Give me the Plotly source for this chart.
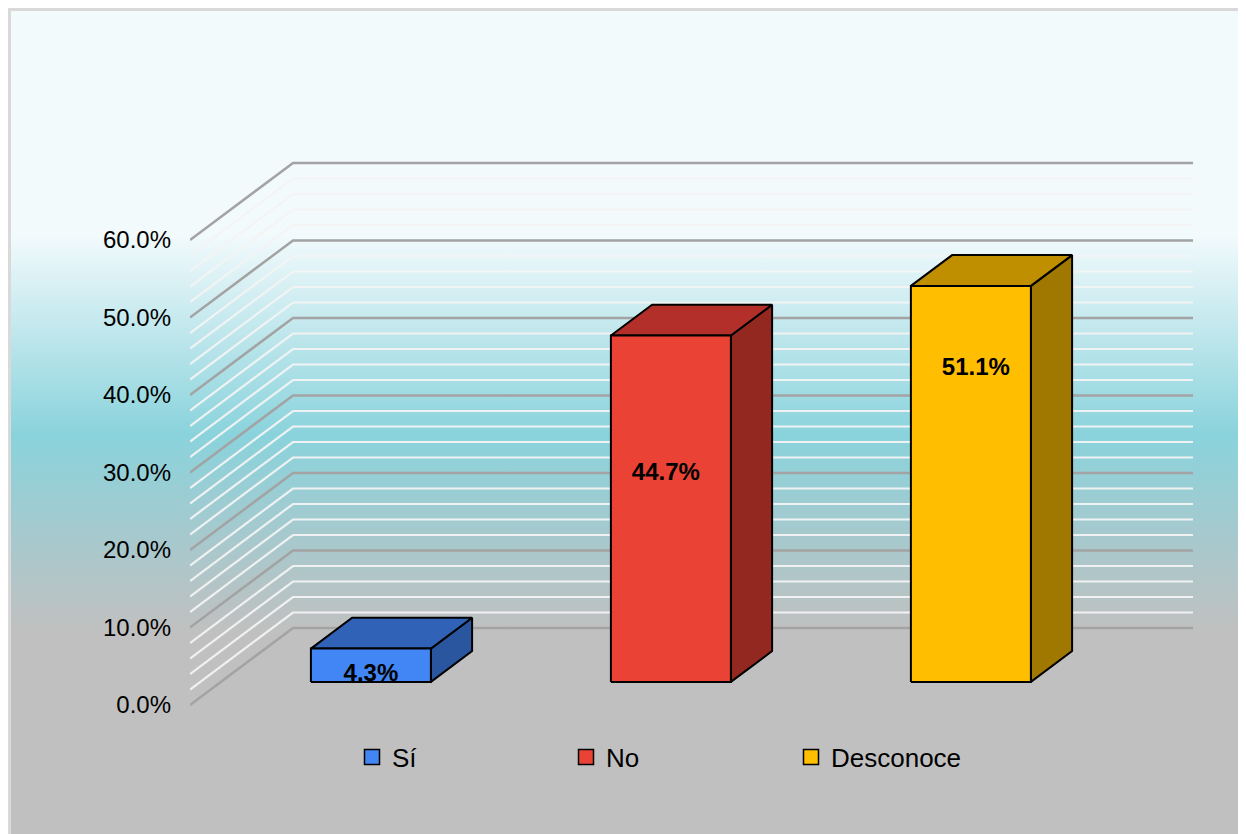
import base64
import plotly.graph_objects as go

# ---------------- data ----------------
categories = ["Sí", "No", "Desconoce"]
values = [4.3, 44.7, 51.1]
tick_values = [0, 10, 20, 30, 40, 50, 60]
tick_labels = ["0.0%", "10.0%", "20.0%", "30.0%", "40.0%", "50.0%", "60.0%"]
minor_step = 2
value_labels = ["4.3%", "44.7%", "51.1%"]

# ---------------- styles ----------------
front_colors = ["#4285F4", "#EA4335", "#FFBE00"]
top_colors = ["#3063B8", "#B3302A", "#BF8F00"]
side_colors = ["#2A559F", "#922820", "#A07800"]
label_height_frac = [0.2, 0.6, 0.79]      # where Excel put the labels on each bar
label_dx_px = [0, -5, 5]                  # small horizontal nudges of the labels
OFF = 8                                   # page body margin
legend_symbol_px = [373 - OFF, 587 - OFF, 812 - OFF]   # legend symbol centres (px, figure coords)

W, H = 1246 - OFF, 834 - OFF
ML = 190 - OFF                # left margin (plot area starts at the front-left wall)
PX_PER_X = 300.0              # pixels per category unit
PX_PER_Y = 7.75               # pixels per percent
Y0_PX = 705 - OFF             # pixel row of 0 % on the front plane
DEPTH_X = 103 / PX_PER_X      # depth offset in category units
DEPTH_Y = 77 / PX_PER_Y       # depth offset in percent units
BAR_W = 0.4
Z_FRONT, Z_BACK = 0.3, 0.7
FONT = "Liberation Sans, Arial, sans-serif"


def proj(x, y, z):
    return x + z * DEPTH_X, y + z * DEPTH_Y


fig = go.Figure()

# ---------------- gridlines (side wall + back wall) ----------------
n = len(categories)
x_left, x_right = -0.5, n - 0.5
top = max(tick_values)
for major in (False, True):
    xs, ys = [], []
    for v in range(0, top + 1, minor_step):
        if (v % 10 == 0) != major:
            continue
        pts = [proj(x_left, v, 0), proj(x_left, v, 1), proj(x_right, v, 1)]
        xs += [p[0] for p in pts] + [None]
        ys += [p[1] for p in pts] + [None]
    fig.add_trace(go.Scatter(
        x=xs, y=ys, mode="lines",
        line=dict(color="#A3A3A3" if major else "rgba(243,243,243,0.95)",
                  width=2.5 if major else 2.2),
        hoverinfo="skip", showlegend=False))

# ---------------- 3-D bars ----------------
for i, (cat, v) in enumerate(zip(categories, values)):
    x0, x1 = i - BAR_W / 2, i + BAR_W / 2
    faces = [
        ([proj(x1, 0, Z_FRONT), proj(x1, 0, Z_BACK), proj(x1, v, Z_BACK), proj(x1, v, Z_FRONT)], side_colors[i]),
        ([proj(x0, v, Z_FRONT), proj(x1, v, Z_FRONT), proj(x1, v, Z_BACK), proj(x0, v, Z_BACK)], top_colors[i]),
        ([proj(x0, 0, Z_FRONT), proj(x1, 0, Z_FRONT), proj(x1, v, Z_FRONT), proj(x0, v, Z_FRONT)], front_colors[i]),
    ]
    for pts, col in faces:
        fig.add_trace(go.Scatter(
            x=[p[0] for p in pts] + [pts[0][0]],
            y=[p[1] for p in pts] + [pts[0][1]],
            mode="lines", fill="toself", fillcolor=col,
            line=dict(color="#000000", width=2),
            hoverinfo="skip", showlegend=False))

# ---------------- value labels ----------------
lx, ly = [], []
for i, v in enumerate(values):
    px_, py_ = proj(i, v * label_height_frac[i], Z_FRONT)
    lx.append(px_ + label_dx_px[i] / PX_PER_X)
    ly.append(py_)
fig.add_trace(go.Scatter(
    x=lx, y=ly, mode="text", text=value_labels,
    textfont=dict(family=FONT, size=24, color="#000000"),
    texttemplate="<b>%{text}</b>", hoverinfo="skip", showlegend=False))

# ---------------- legend (one legend per entry, Excel-style spacing) ----------------
legend_layouts = {}
for i, cat in enumerate(categories):
    key = "legend" if i == 0 else f"legend{i + 1}"
    fig.add_trace(go.Scatter(
        x=[None], y=[None], mode="markers", name=cat, legend=key,
        marker=dict(symbol="square", size=15, color=front_colors[i],
                    line=dict(color="#000000", width=1.5))))
    legend_layouts[key] = dict(
        x=(legend_symbol_px[i] - 21 - ML) / (W - ML), xanchor="left",
        y=1 - (757 - OFF) / H, yanchor="middle", orientation="h",
        bgcolor="rgba(0,0,0,0)", borderwidth=0,
        font=dict(family=FONT, size=26, color="#000000"))

# ---------------- background (chart-area gradient, border on top/left only) ----------------
svg = f'''<svg xmlns="http://www.w3.org/2000/svg" width="{W}" height="{H}" viewBox="0 0 {W} {H}" preserveAspectRatio="none">
<defs><linearGradient id="g" gradientUnits="userSpaceOnUse" x1="0" y1="0" x2="0" y2="834">
<stop offset="0" stop-color="#F2FAFC"/>
<stop offset="0.272" stop-color="#F2FAFC"/>
<stop offset="0.512" stop-color="#8AD3DC"/>
<stop offset="0.746" stop-color="#C0C0C0"/>
<stop offset="1" stop-color="#C0C0C0"/>
</linearGradient></defs>
<rect x="0" y="0" width="{W}" height="{H}" fill="url(#g)"/>
<path d="M1.5,{H} L1.5,1.5 L{W},1.5" fill="none" stroke="#D9D9D9" stroke-width="3"/>
</svg>'''
src = "data:image/svg+xml;base64," + base64.b64encode(svg.encode()).decode()

y_bottom = (Y0_PX - H) / PX_PER_Y
y_top = Y0_PX / PX_PER_Y
x_start = -0.5
x_end = x_start + (W - ML) / PX_PER_X

fig.update_layout(
    width=W, height=H,
    margin=dict(l=ML, r=0, t=0, b=0, pad=0),
    paper_bgcolor="#C0C0C0", plot_bgcolor="rgba(0,0,0,0)",
    images=[dict(source=src, xref="paper", yref="paper",
                 x=-ML / (W - ML), y=1, sizex=W / (W - ML), sizey=1,
                 xanchor="left", yanchor="top", sizing="stretch", layer="below")],
    xaxis=dict(range=[x_start, x_end], visible=False, fixedrange=True),
    yaxis=dict(range=[y_bottom, y_top], tickvals=tick_values, ticktext=tick_labels,
               showgrid=False, zeroline=False, showline=False, ticks="",
               ticklabelstandoff=18,
               tickfont=dict(family=FONT, size=24, color="#000000"), fixedrange=True),
    showlegend=True,
    **legend_layouts,
)

fig.write_html("out.html")
